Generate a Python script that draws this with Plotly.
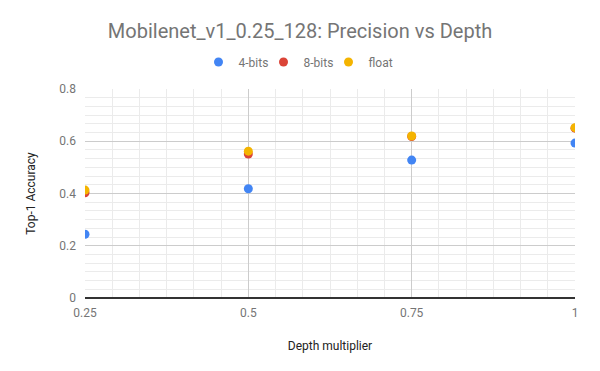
import plotly.graph_objects as go

depth = [0.25, 0.5, 0.75, 1.0]
acc_4bits = [0.244, 0.418, 0.528, 0.593]
acc_8bits = [0.403, 0.551, 0.618, 0.650]
acc_float = [0.413, 0.562, 0.620, 0.652]
series_names = ["4-bits", "8-bits", "float"]
colors = ["#4285F4", "#DB4437", "#F4B400"]
x_ticks = [0.25, 0.5, 0.75, 1.0]
x_tick_labels = ["0.25", "0.5", "0.75", "1"]
y_ticks = [0, 0.2, 0.4, 0.6, 0.8]
y_tick_labels = ["0", "0.2", "0.4", "0.6", "0.8"]

fig = go.Figure()
for name, vals, c in zip(series_names, [acc_4bits, acc_8bits, acc_float], colors):
    fig.add_trace(go.Scatter(x=depth, y=vals, mode="markers", name=name,
                             marker=dict(color=c, size=9, line=dict(width=0))))

# page body has an 8px default margin, so figure coords = page coords - 8
L, R, T, B = 77, 33, 81, 81
pw, ph = 600 - L - R, 371 - T - B
fig.update_layout(
    width=600, height=371,
    paper_bgcolor="white", plot_bgcolor="white",
    margin=dict(l=L, r=R, t=T, b=B, autoexpand=False),
    font=dict(family="Roboto, Arial, sans-serif", color="#757575", size=12),
    title=dict(text="Mobilenet_v1_0.25_128: Precision vs Depth", x=292/600, xanchor="center",
               y=1 - 23/371, yanchor="middle",
               font=dict(size=20, color="#757575")),
    legend=dict(orientation="h", x=(288 - L)/pw, xanchor="center", y=1 + (T - 54)/ph, yanchor="middle",
                font=dict(size=12, color="#757575"), itemwidth=30, traceorder="normal",
                entrywidth=20, entrywidthmode="pixels"),
    showlegend=True,
)
fig.update_xaxes(
    range=[0.25, 1.0], tickvals=x_ticks, ticktext=x_tick_labels,
    showgrid=True, gridcolor="#cccccc", gridwidth=1,
    minor=dict(dtick=0.25/6, tick0=0.25, showgrid=True, gridcolor="#ebebeb", gridwidth=1),
    zeroline=False, showline=False, ticks="", ticklabelstandoff=6, automargin=False,
    title=dict(text="Depth multiplier", font=dict(size=12, color="#222222"), standoff=22),
    tickfont=dict(size=12, color="#757575"),
)
fig.update_yaxes(
    range=[0, 0.8], tickvals=y_ticks, ticktext=y_tick_labels,
    showgrid=True, gridcolor="#cccccc", gridwidth=1,
    minor=dict(dtick=0.2/6, tick0=0, showgrid=True, gridcolor="#ebebeb", gridwidth=1),
    zeroline=True, zerolinecolor="#333333", zerolinewidth=1.5, showline=False, ticks="",
    ticklabelstandoff=8, automargin=False,
    title=dict(text="Top-1 Accuracy", font=dict(size=12, color="#222222"), standoff=21),
    tickfont=dict(size=12, color="#757575"),
)
fig.write_html("out.html")
